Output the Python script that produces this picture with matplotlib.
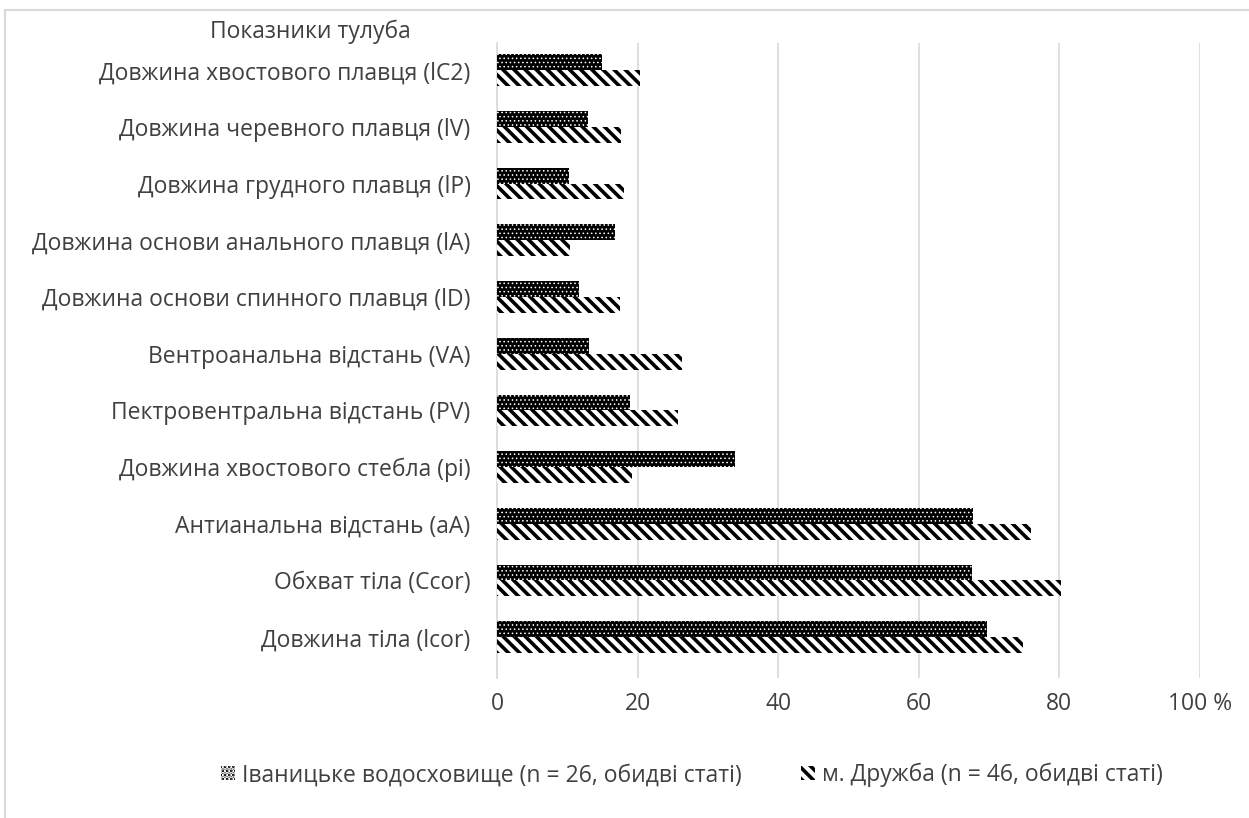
import matplotlib
matplotlib.use("Agg")
import matplotlib.pyplot as plt
from matplotlib.patches import Patch
from matplotlib.lines import Line2D
import numpy as np

# Categories listed bottom to top
categories = [
    "Довжина тіла (lcor)",
    "Обхват тіла (Ccor)",
    "Антианальна відстань (aA)",
    "Довжина хвостового стебла (pi)",
    "Пектровентральна відстань (PV)",
    "Вентроанальна відстань (VA)",
    "Довжина основи спинного плавця (lD)",
    "Довжина основи анального плавця (lA)",
    "Довжина грудного плавця (lP)",
    "Довжина черевного плавця (lV)",
    "Довжина хвостового плавця (lC2)",
]
ivanytske = [69.7, 67.5, 67.7, 33.9, 18.9, 13.1, 11.6, 16.8, 10.3, 13.0, 15.0]
druzhba = [74.8, 80.2, 76.0, 19.2, 25.8, 26.3, 17.5, 10.4, 18.0, 17.7, 20.3]
series_names = ["Іваницьке водосховище (n = 26, обидві статі)",
                "м. Дружба (n = 46, обидві статі)"]
x_ticks = [0, 20, 40, 60, 80, 100]
x_tick_labels = ["0", "20", "40", "60", "80", "100 %"]

plt.rcParams["font.family"] = ["Open Sans", "DejaVu Sans"]
text_color = "#404040"
fs = 16.5

fig = plt.figure(figsize=(12.49, 8.18), dpi=100)
ax = fig.add_axes([497 / 1249, 1 - 678 / 818, (1200 - 497) / 1249, (678 - 43) / 818])

y = np.arange(len(categories))
h = 0.28

dot_hatch = "...."
stripe_hatch = "\\\\\\"

plt.rcParams["hatch.linewidth"] = 0.6
ax.barh(y + h / 2, ivanytske, height=h, color="black", edgecolor="white",
        hatch=dot_hatch, linewidth=0, zorder=3)
plt.rcParams["hatch.linewidth"] = 2.6
ax.barh(y - h / 2, druzhba, height=h, color="white", edgecolor="black",
        hatch=stripe_hatch, linewidth=0, zorder=3)

ax.set_xlim(0, 100)
ax.set_ylim(-0.72, len(categories) - 1 + 0.48)
ax.set_xticks(x_ticks)
ax.set_xticklabels(x_tick_labels)
ax.set_yticks(y)
ax.set_yticklabels(categories)
ax.tick_params(axis="both", length=0, labelsize=fs, colors=text_color)
ax.tick_params(axis="x", pad=10)
ax.tick_params(axis="y", pad=19)
ax.grid(axis="x", color="#d9d9d9", linewidth=1.2, zorder=0)
for side in ["top", "right", "bottom"]:
    ax.spines[side].set_visible(False)
ax.spines["left"].set_color("#d9d9d9")
ax.spines["left"].set_linewidth(1.2)

fig.text(310 / 1249, 1 - 32 / 818, "Показники тулуба", ha="center", va="center",
         fontsize=fs, color=text_color)

# outer frame lines (top and left)
fig.add_artist(Line2D([5 / 1249, 1], [1 - 10 / 818] * 2, color="#d9d9d9", lw=1.5,
                      transform=fig.transFigure))
fig.add_artist(Line2D([5 / 1249] * 2, [0, 1 - 10 / 818], color="#d9d9d9", lw=1.5,
                      transform=fig.transFigure))

handles = [Patch(facecolor="black", edgecolor="white", hatch=dot_hatch, linewidth=0),
           Patch(facecolor="white", edgecolor="black", hatch=stripe_hatch, linewidth=0)]
fig.legend(handles, series_names, loc="center", bbox_to_anchor=(692 / 1249, 1 - 775 / 818),
           ncol=2, frameon=False, fontsize=fs, labelcolor=text_color,
           handlelength=0.6, handleheight=0.6, handletextpad=0.3, columnspacing=2.6)

fig.savefig("out.png", dpi=100)
